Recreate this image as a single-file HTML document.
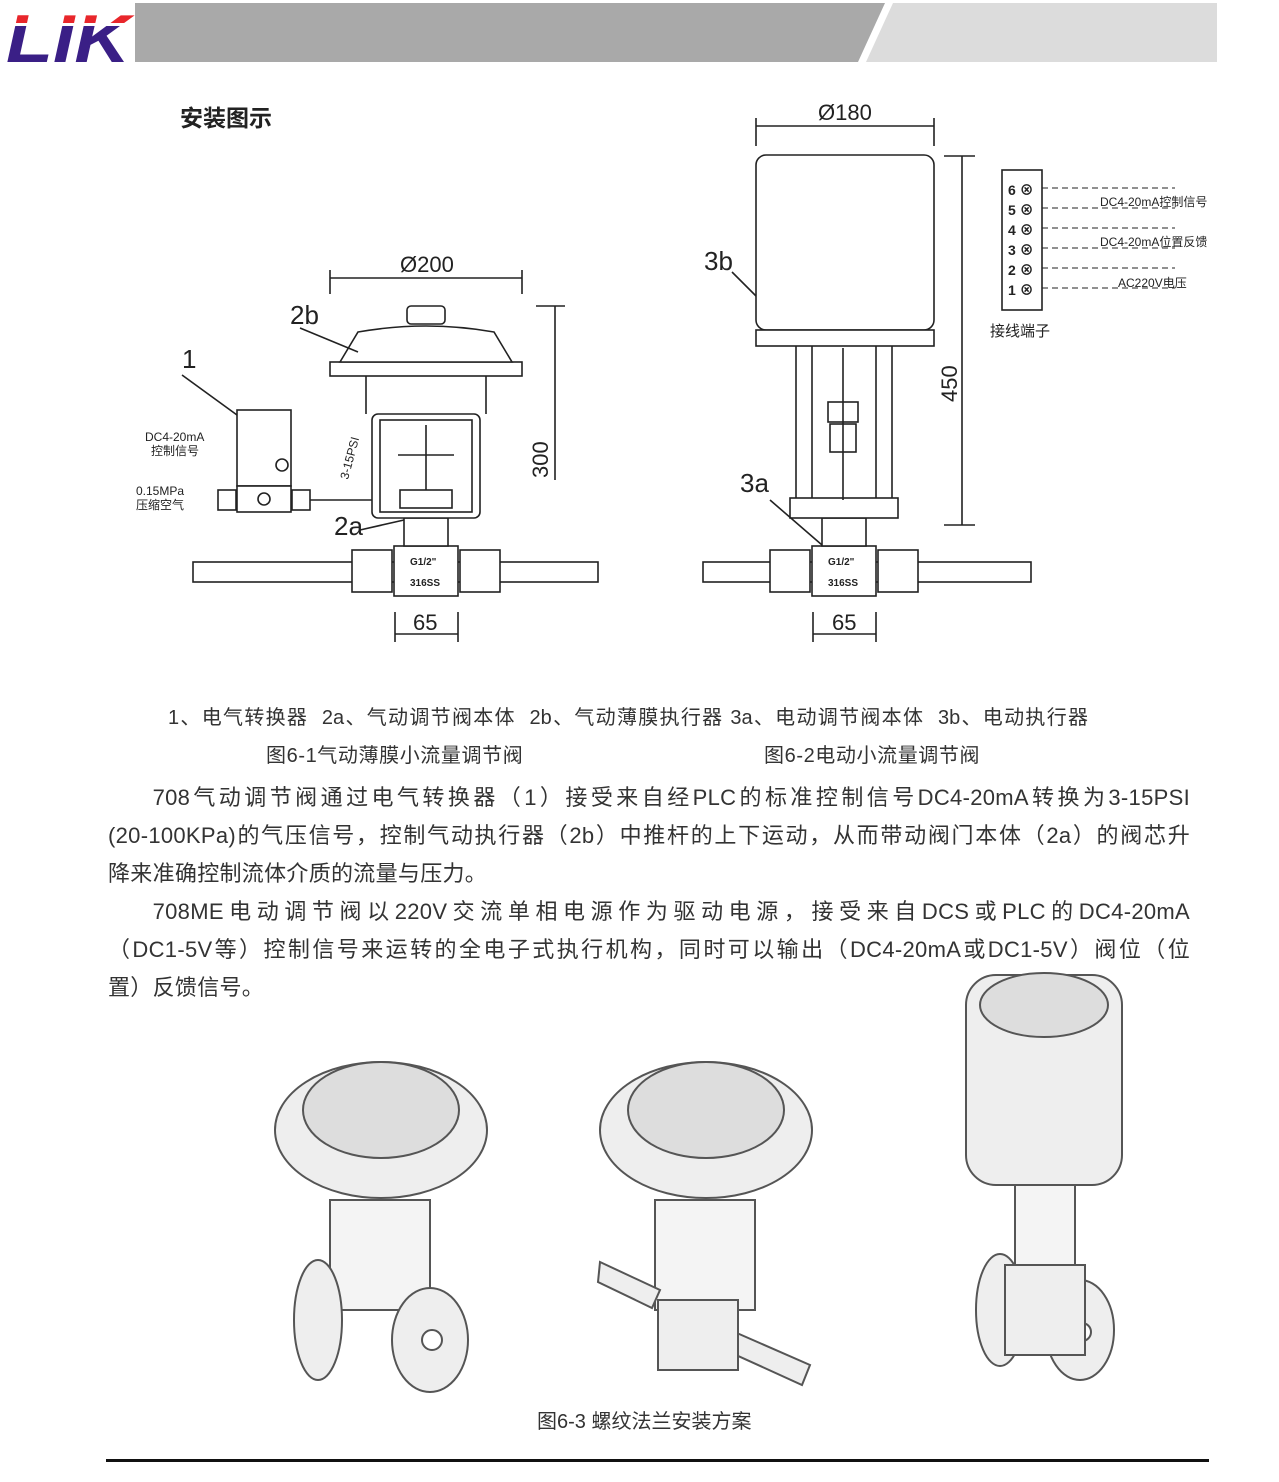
<!DOCTYPE html>
<html><head><meta charset="utf-8"><style>
body{margin:0;width:1279px;height:1482px;background:#fff;position:relative;overflow:hidden;font-family:"Liberation Sans","Noto Sans CJK SC",sans-serif;color:#222}
.t{position:absolute;white-space:nowrap}
.p{position:absolute;left:108px;width:1082px;font-size:22px;line-height:38px;text-align:justify;text-align-last:justify;color:#333;letter-spacing:0.3px}
</style></head><body>
<svg width="1279" height="1482" style="position:absolute;left:0;top:0" font-family="Liberation Sans, Noto Sans CJK SC, sans-serif">
<defs><clipPath id="top"><rect x="0" y="0" width="140" height="23"/></clipPath><clipPath id="bot"><rect x="0" y="26" width="140" height="50"/></clipPath></defs>
<!-- header -->
<polygon points="135,3 885,3 858,62 135,62" fill="#a9a9a9"/>
<polygon points="893,3 1217,3 1217,62 866,62" fill="#dcdcdc"/>
<text x="6" y="62" font-size="68" font-weight="bold" font-style="italic" fill="#3a1f86" textLength="124" lengthAdjust="spacingAndGlyphs" clip-path="url(#bot)">LIK</text>
<text x="6" y="62" font-size="68" font-weight="bold" font-style="italic" fill="#e8262b" textLength="124" lengthAdjust="spacingAndGlyphs" clip-path="url(#top)">LIK</text>
<g stroke="#222" fill="none" stroke-width="1.6">
<rect x="193" y="562" width="405" height="20" fill="#fff"/>
<rect x="352" y="550" width="40" height="42" fill="#fff"/>
<rect x="460" y="550" width="40" height="42" fill="#fff"/>
<rect x="394" y="546" width="64" height="50" fill="#fff"/>
<rect x="404" y="518" width="44" height="28" fill="#fff"/>
<rect x="372" y="414" width="108" height="104" rx="6" fill="#fff"/>
<rect x="380" y="420" width="92" height="92"/>
<rect x="330" y="362" width="192" height="14" fill="#fff"/>
<path d="M340,362 L358,332 Q426,320 494,332 L512,362Z" fill="#fff"/>
<rect x="407" y="306" width="38" height="18" rx="4" fill="#fff"/>
<path d="M366,376 L366,414 M486,376 L486,414"/>
<rect x="400" y="490" width="52" height="18"/>
<line x1="426" y1="425" x2="426" y2="490"/>
<line x1="398" y1="455" x2="454" y2="455"/>
<rect x="237" y="410" width="54" height="76" fill="#fff"/>
<rect x="237" y="486" width="54" height="26" fill="#fff"/>
<circle cx="264" cy="499" r="6"/>
<circle cx="282" cy="465" r="6"/>
<rect x="218" y="490" width="18" height="20"/><rect x="292" y="490" width="18" height="20"/>
<line x1="310" y1="500" x2="372" y2="500"/>
<path d="M330,278 H522 M330,270 V294 M522,270 V294" />
<path d="M536,306 H565 M555,306 V480" />
<line x1="182" y1="375" x2="237" y2="415"/>
<line x1="300" y1="328" x2="358" y2="352"/>
<line x1="360" y1="530" x2="404" y2="520"/>
<path d="M395,612 V642 M458,612 V642 M395,634 H458"/>
<rect x="703" y="562" width="328" height="20" fill="#fff"/>
<rect x="770" y="550" width="40" height="42" fill="#fff"/>
<rect x="878" y="550" width="40" height="42" fill="#fff"/>
<rect x="812" y="546" width="64" height="50" fill="#fff"/>
<rect x="822" y="518" width="44" height="28" fill="#fff"/>
<rect x="796" y="345" width="96" height="155" fill="#fff"/>
<rect x="790" y="498" width="108" height="20" fill="#fff"/>
<line x1="812" y1="345" x2="812" y2="498"/><line x1="876" y1="345" x2="876" y2="498"/>
<rect x="828" y="402" width="30" height="20"/>
<rect x="830" y="424" width="26" height="28"/>
<line x1="843" y1="348" x2="843" y2="500"/>
<rect x="756" y="155" width="178" height="175" rx="10" fill="#fff"/>
<rect x="756" y="330" width="178" height="16" fill="#fff"/>
<path d="M756,126 H934 M756,118 V146 M934,118 V146"/>
<path d="M944,156 H975 M962,156 V525 M944,525 H975"/>
<line x1="732" y1="272" x2="756" y2="296"/>
<line x1="770" y1="500" x2="822" y2="545"/>
<path d="M813,612 V642 M876,612 V642 M813,634 H876"/>
<rect x="1002" y="170" width="40" height="140" fill="#fff"/>
<g stroke-width="1" stroke-dasharray="6,4">
<path d="M1042,188 H1175 M1042,208 H1175 M1042,228 H1175 M1042,248 H1175 M1042,268 H1175 M1042,288 H1175"/>
</g>
</g>
<g font-size="14" font-weight="bold" fill="#222">
<text x="1008" y="195">6 ⊗</text><text x="1008" y="215">5 ⊗</text><text x="1008" y="235">4 ⊗</text><text x="1008" y="255">3 ⊗</text><text x="1008" y="275">2 ⊗</text><text x="1008" y="295">1 ⊗</text>
</g>
<g font-size="12" fill="#222">
<text x="1100" y="206">DC4-20mA控制信号</text>
<text x="1100" y="246">DC4-20mA位置反馈</text>
<text x="1118" y="287">AC220V电压</text>
<text x="990" y="336" font-size="15">接线端子</text>
<text x="145" y="441">DC4-20mA</text><text x="151" y="455">控制信号</text>
<text x="136" y="495">0.15MPa</text><text x="136" y="509">压缩空气</text>
<text x="410" y="565" font-size="10" font-weight="bold">G1/2"</text><text x="410" y="586" font-size="10" font-weight="bold">316SS</text>
<text x="828" y="565" font-size="10" font-weight="bold">G1/2"</text><text x="828" y="586" font-size="10" font-weight="bold">316SS</text>
</g>
<g font-size="22" fill="#222">
<text x="400" y="272">Ø200</text><text x="818" y="120">Ø180</text>
<text x="290" y="324" font-size="26">2b</text><text x="182" y="368" font-size="26">1</text>
<text x="334" y="535" font-size="26">2a</text><text x="704" y="270" font-size="26">3b</text>
<text x="740" y="492" font-size="26">3a</text>
<text x="413" y="630">65</text><text x="832" y="630">65</text>
<text x="548" y="478" transform="rotate(-90 548 478)">300</text>
<text x="957" y="402" transform="rotate(-90 957 402)">450</text>
<text x="348" y="480" font-size="12" transform="rotate(-75 348 480)">3-15PSI</text>
</g>
<g stroke="#555" fill="#eee" stroke-width="2">
<ellipse cx="381" cy="1130" rx="106" ry="68"/><ellipse cx="381" cy="1110" rx="78" ry="48" fill="#ddd"/>
<rect x="330" y="1200" width="100" height="110" fill="#f4f4f4"/>
<ellipse cx="318" cy="1320" rx="24" ry="60"/><ellipse cx="430" cy="1340" rx="38" ry="52"/><circle cx="432" cy="1340" r="10" fill="#fff"/>
<ellipse cx="706" cy="1130" rx="106" ry="68"/><ellipse cx="706" cy="1110" rx="78" ry="48" fill="#ddd"/>
<rect x="655" y="1200" width="100" height="110" fill="#f4f4f4"/>
<path d="M600,1262 L660,1290 L652,1308 L598,1282Z"/>
<path d="M730,1330 L810,1365 L802,1385 L725,1350Z"/>
<rect x="658" y="1300" width="80" height="70"/>
<rect x="966" y="975" width="156" height="210" rx="30"/><ellipse cx="1044" cy="1005" rx="64" ry="32" fill="#ddd"/>
<rect x="1015" y="1185" width="60" height="80" fill="#f4f4f4"/>
<ellipse cx="1000" cy="1310" rx="24" ry="56"/><ellipse cx="1080" cy="1330" rx="34" ry="50"/><circle cx="1082" cy="1332" r="9" fill="#fff"/>
<rect x="1005" y="1265" width="80" height="90"/>
</g>
<rect x="106" y="1459" width="1103" height="3" fill="#111"/>
</svg>
<div class="t" style="left:180px;top:99px;font-size:23px;font-weight:bold">安装图示</div>
<div class="t" style="left:168px;top:701px;font-size:20px;color:#333;width:920px;text-align:justify;text-align-last:justify;white-space:normal">1、电气转换器&nbsp; 2a、气动调节阀本体&nbsp; 2b、气动薄膜执行器 3a、电动调节阀本体&nbsp; 3b、电动执行器</div>
<div class="t" style="left:266px;top:739px;font-size:20px;color:#333;letter-spacing:0.6px">图6-1气动薄膜小流量调节阀</div>
<div class="t" style="left:764px;top:739px;font-size:20px;color:#333;letter-spacing:0.6px">图6-2电动小流量调节阀</div>
<div class="p" style="top:779px">&emsp;&emsp;708气动调节阀通过电气转换器（1）接受来自经PLC的标准控制信号DC4-20mA转换为3-15PSI</div>
<div class="p" style="top:817px">(20-100KPa)的气压信号，控制气动执行器（2b）中推杆的上下运动，从而带动阀门本体（2a）的阀芯升</div>
<div class="p" style="top:855px;text-align-last:left">降来准确控制流体介质的流量与压力。</div>
<div class="p" style="top:893px">&emsp;&emsp;708ME电动调节阀以220V交流单相电源作为驱动电源，接受来自DCS或PLC的DC4-20mA</div>
<div class="p" style="top:931px">（DC1-5V等）控制信号来运转的全电子式执行机构，同时可以输出（DC4-20mA或DC1-5V）阀位（位</div>
<div class="p" style="top:969px;text-align-last:left">置）反馈信号。</div>
<div class="t" style="left:537px;top:1405px;font-size:20px;color:#333">图6-3 螺纹法兰安装方案</div>
</body></html>
